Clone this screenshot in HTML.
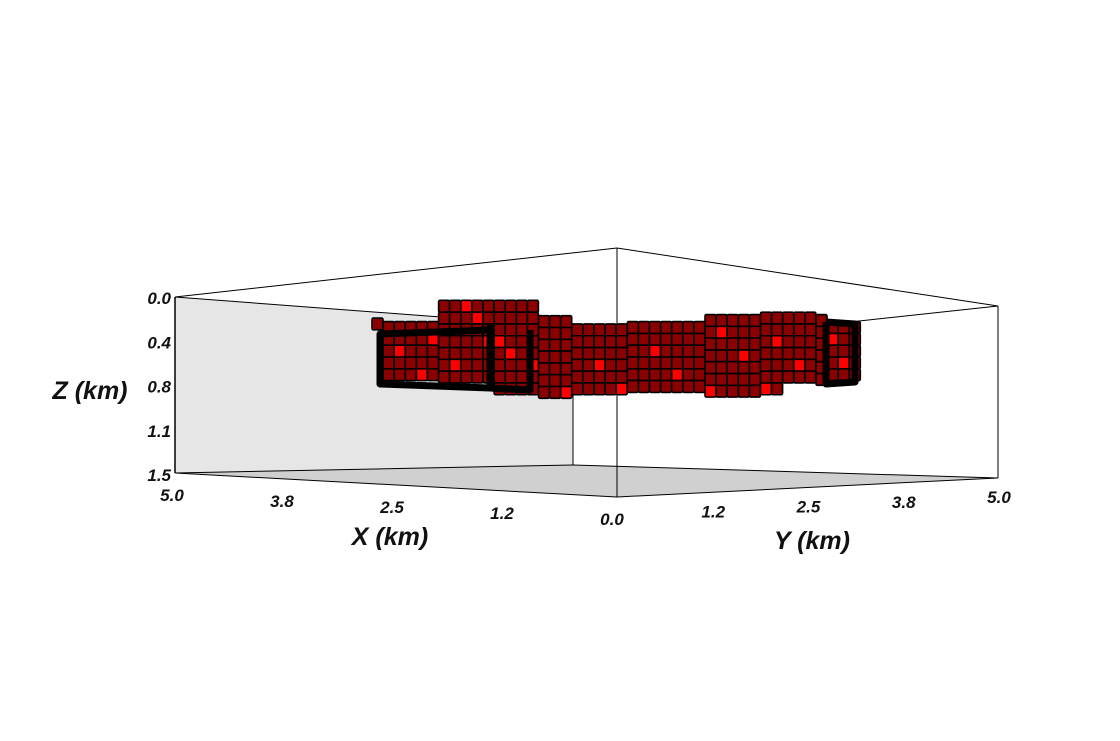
<!DOCTYPE html>
<html><head><meta charset="utf-8"><style>
html,body{margin:0;padding:0;background:#fff;}
svg{display:block;}
text{font-family:"Liberation Sans",sans-serif;font-weight:bold;font-style:italic;fill:#111;}
</style></head><body>
<svg id="chart" width="1120" height="741" viewBox="0 0 1120 741" xmlns="http://www.w3.org/2000/svg">
  <rect width="1120" height="741" fill="#fff"/>
  <polygon points="175,297 573,327 573,465 175,473" fill="#e6e6e6"/>
  <polygon points="175,473 573,465 998,478 617,497" fill="#d0d0d0"/>
  <g stroke="#000" stroke-width="1" fill="none">
    <line x1="175" y1="297" x2="617" y2="248"/>
    <line x1="617" y1="248" x2="998" y2="306"/>
    <line x1="617" y1="248" x2="617" y2="497"/>
    <line x1="175" y1="297" x2="573" y2="327"/>
    <line x1="573" y1="327" x2="573" y2="465"/>
    <line x1="573" y1="465" x2="998" y2="478"/>
    <line x1="573" y1="465" x2="175" y2="473"/>
    <line x1="998" y1="306" x2="998" y2="478"/>
    <line x1="175" y1="473" x2="617" y2="497"/>
    <line x1="617" y1="497" x2="998" y2="478"/>
    <line x1="998" y1="306" x2="850" y2="322"/>
  </g>
  <line x1="175" y1="297" x2="175" y2="473" stroke="#000" stroke-width="1.5"/>
  <g id="voxels"></g>
  <g id="frames" stroke="#000" stroke-width="7" fill="none" stroke-linejoin="round">
    <polyline points="490,330 380,334 380,384 490,388"/>
    <polyline points="490,325 490,388 530,390 530,330"/>
    <polyline points="826,322 855,324 855,382 826,384 826,322"/>
  </g>
  <g id="axes"></g>
  <text x="90" y="399" font-size="25" text-anchor="middle">Z (km)</text>
  <text x="390" y="545" font-size="25" text-anchor="middle">X (km)</text>
  <text x="812" y="549" font-size="25" text-anchor="middle">Y (km)</text>
</svg>
<script>
const zTicks=["0.0","0.4","0.8","1.1","1.5"];
const xTicks=["5.0","3.8","2.5","1.2","0.0"];
const yTicks=["0.0","1.2","2.5","3.8","5.0"];
const colTop=[0.17,0.2,0.2,0.2,0.2,0.2,0.02,0.02,0.02,0.02,0.02,0.02,0.02,0.02,0.02,0.15,0.15,0.15,0.22,0.22,0.22,0.22,0.22,0.2,0.2,0.2,0.2,0.2,0.2,0.2,0.14,0.14,0.14,0.14,0.14,0.12,0.12,0.12,0.12,0.12,0.14,0.2,0.2,0.2];
const colBot=[0.3,0.7,0.7,0.7,0.7,0.7,0.7,0.7,0.7,0.7,0.7,0.8,0.8,0.8,0.8,0.85,0.85,0.85,0.85,0.85,0.85,0.85,0.85,0.85,0.85,0.85,0.85,0.85,0.85,0.85,0.85,0.85,0.85,0.85,0.85,0.85,0.85,0.75,0.75,0.75,0.75,0.65,0.65,0.65];
const bright=[[2,2],[5,1],[8,0],[9,1],[10,3],[11,3],[12,4],[14,5],[20,3],[22,5],[25,2],[27,4],[30,6],[33,3],[36,2],[38,4],[41,1],[42,3],[4,4],[17,6],[28,7],[35,6],[7,5],[24,7],[31,1]];
const NS="http://www.w3.org/2000/svg";
const zY=d=>298+d*(475-298)/1.5;
const colX=i=>372+i*11.1;
const vox=document.getElementById('voxels');
const isBright=(c,r)=>bright.some(b=>b[0]===c&&b[1]===r);
for(let c=0;c<colTop.length;c++){
  const n=Math.max(1,Math.round((colBot[c]-colTop[c])/0.1));
  for(let r=0;r<n;r++){
    const d=colTop[c]+r*0.1;
    const rc=document.createElementNS(NS,'rect');
    rc.setAttribute('x',colX(c));
    rc.setAttribute('y',zY(d));
    rc.setAttribute('width',11);
    rc.setAttribute('height',zY(d+0.1)-zY(d));
    rc.setAttribute('rx',1.5);
    rc.setAttribute('fill',isBright(c,r)?'#ff0000':'#8b0000');
    rc.setAttribute('stroke','#000');
    rc.setAttribute('stroke-width','1.6');
    
    
    vox.appendChild(rc);
  }
}
const ax=document.getElementById('axes');
function txt(x,y,s,anchor,name){
  const t=document.createElementNS(NS,'text');
  t.setAttribute('x',x);t.setAttribute('y',y);t.setAttribute('font-size','17');
  t.setAttribute('text-anchor',anchor);t.textContent=s;
  
  
  ax.appendChild(t);
}
zTicks.forEach((s,i)=>{txt(171,zY(i*1.5/4)+6,s,'end','z-tick-label');});
xTicks.forEach((s,i)=>{const f=i/4;const x=175+f*(617-175);const y=473+f*(497-473);txt(x-3-f*2,y+28,s,'middle','x-tick-label');});
yTicks.forEach((s,i)=>{if(i===0)return;const f=i/4;const x=617+f*(998-617);const y=497+f*(478-497);txt(x+1,y+25,s,'middle','y-tick-label');});
</script>
</body></html>
